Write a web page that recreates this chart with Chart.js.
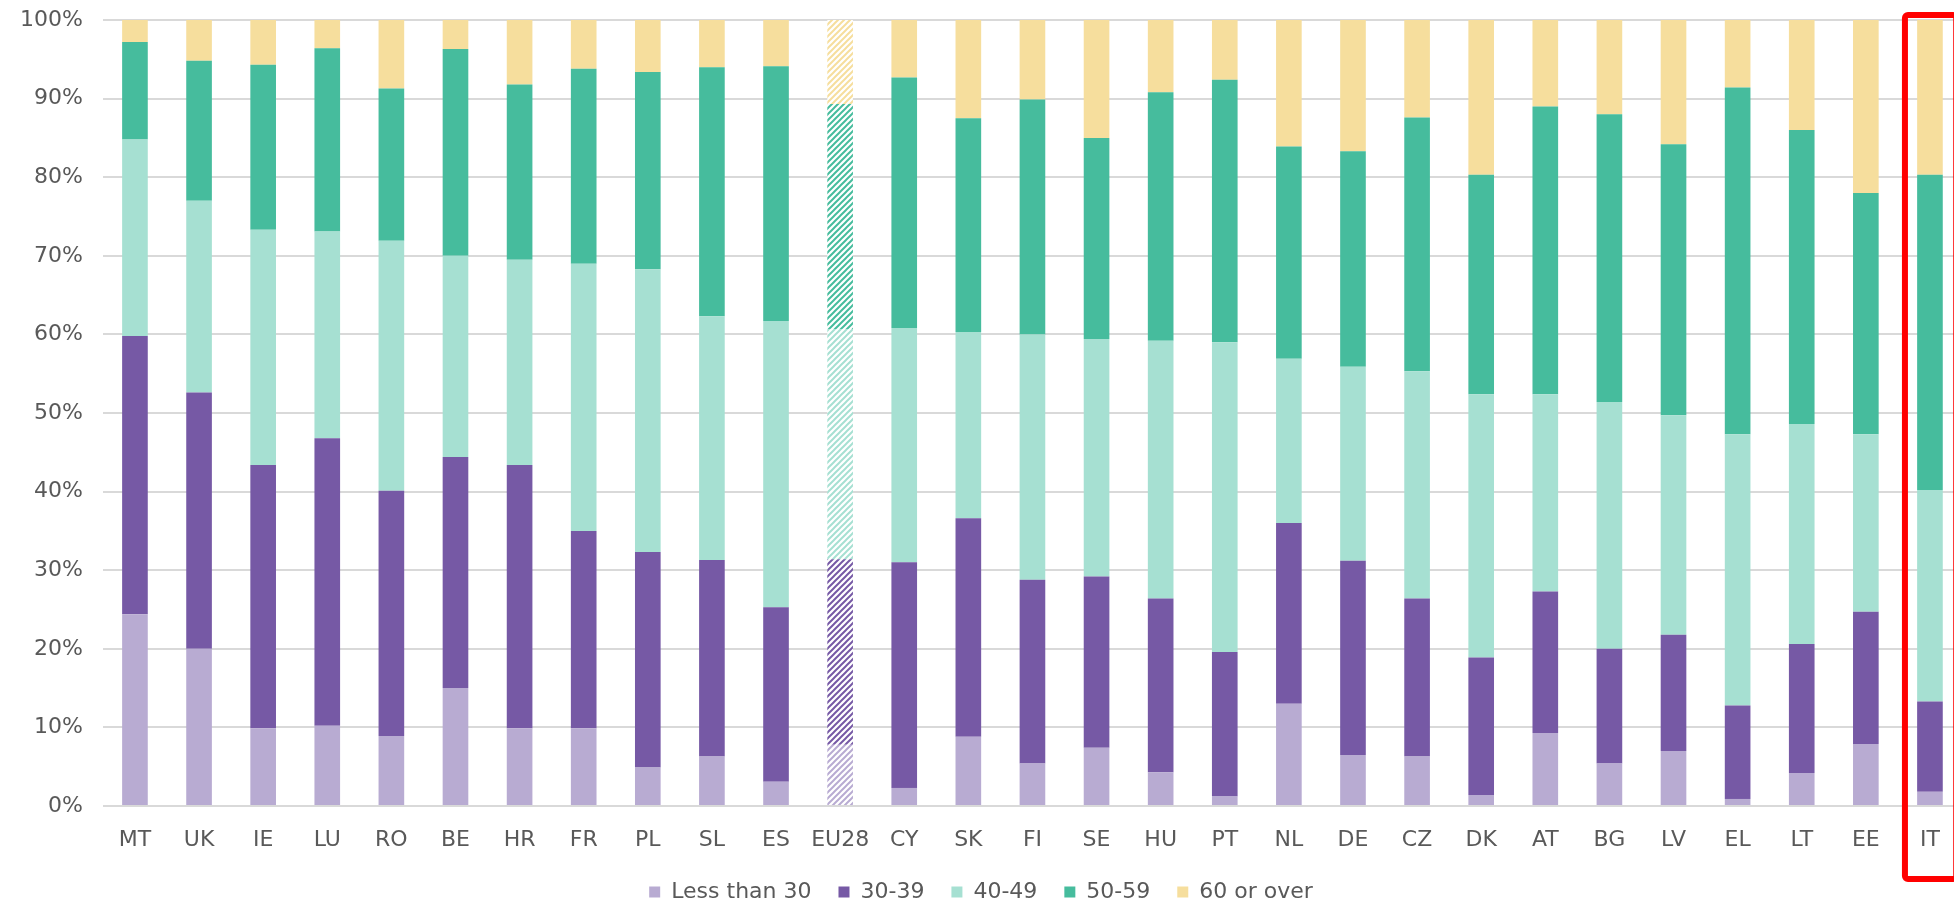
<!DOCTYPE html>
<html>
<head>
<meta charset="utf-8">
<script src="https://cdn.jsdelivr.net/npm/chart.js@4/dist/chart.umd.min.js"></script>
<style>
html, body { margin: 0; padding: 0; background: #fff; overflow: hidden; }
</style>
</head>
<body>
<canvas id="canvas" width="1980" height="904"></canvas>
<script>
// share of staff by age group, per country (%)
var countries = ["MT", "UK", "IE", "LU", "RO", "BE", "HR", "FR", "PL", "SL", "ES", "EU28", "CY", "SK", "FI",
                 "SE", "HU", "PT", "NL", "DE", "CZ", "DK", "AT", "BG", "LV", "EL", "LT", "EE", "IT"];
var lessThan30 = [24.4, 20.0, 9.9, 10.2, 8.9, 15.0, 9.9, 9.9, 4.9, 6.3, 3.1, 7.8, 2.3, 8.8, 5.4,
                  7.4, 4.3, 1.2, 13.0, 6.5, 6.3, 1.4, 9.3, 5.4, 7.0, 0.9, 4.2, 7.9, 1.8];
var age30to39 = [35.4, 32.6, 33.5, 36.6, 31.2, 29.4, 33.5, 25.1, 27.4, 25.0, 22.2, 23.6, 28.7, 27.8, 23.4,
                 21.8, 22.1, 18.4, 23.0, 24.7, 20.1, 17.5, 18.0, 14.6, 14.8, 11.9, 16.4, 16.8, 11.5];
var age40to49 = [25.0, 24.4, 29.9, 26.3, 31.8, 25.6, 26.1, 34.0, 36.0, 31.0, 36.4, 29.3, 29.8, 23.7, 31.2,
                 30.2, 32.8, 39.4, 20.9, 24.7, 28.9, 33.5, 25.1, 31.4, 27.9, 34.5, 28.0, 22.6, 26.9];
var age50to59 = [12.4, 17.8, 21.0, 23.3, 19.4, 26.3, 22.3, 24.8, 25.1, 31.7, 32.4, 28.6, 31.9, 27.2, 29.9,
                 25.6, 31.6, 33.4, 27.0, 27.4, 32.3, 27.9, 36.6, 36.6, 34.5, 44.1, 37.4, 30.7, 40.1];
var age60plus = [2.8, 5.2, 5.7, 3.6, 8.7, 3.7, 8.2, 6.2, 6.6, 6.0, 5.9, 10.7, 7.3, 12.5, 10.1,
                 15.0, 9.2, 7.6, 16.1, 16.7, 12.4, 19.7, 11.0, 12.0, 15.8, 8.6, 14.0, 22.0, 19.7];
var yTicks = [0, 10, 20, 30, 40, 50, 60, 70, 80, 90, 100];
var average = "EU28";
var highlight = "IT";

Chart.defaults.font.family = "'DejaVu Sans', Verdana, sans-serif";
Chart.defaults.font.size = 22;
Chart.defaults.color = '#595959';

// diagonal hatch used for the EU average bar
function hatch(color) {
    var c = document.createElement('canvas');
    c.width = 6;
    c.height = 6;
    var g = c.getContext('2d');
    g.fillStyle = '#ffffff';
    g.fillRect(0, 0, 6, 6);
    g.strokeStyle = color;
    g.lineWidth = 2;
    g.beginPath();
    g.moveTo(0, 6); g.lineTo(6, 0);
    g.moveTo(-1, 1); g.lineTo(1, -1);
    g.moveTo(5, 7); g.lineTo(7, 5);
    g.stroke();
    return g.createPattern(c, 'repeat');
}

function series(label, values, color) {
    return {
        label: label,
        data: values,
        backgroundColor: countries.map(function (c) { return c === average ? hatch(color) : color; }),
        borderWidth: 0,
        barPercentage: 0.4,
        categoryPercentage: 1.0
    };
}

var highlightBox = {
    id: 'highlightBox',
    afterDraw: function (chart) {
        var x = chart.scales.x;
        var i = countries.indexOf(highlight);
        var cx = x.getPixelForValue(i);
        var w = x.width / countries.length;
        var ctx = chart.ctx;
        var top = chart.chartArea.top - 5;
        ctx.save();
        ctx.strokeStyle = '#ff0000';
        ctx.lineWidth = 6;
        ctx.beginPath();
        ctx.roundRect(cx - w * 0.39, top, w * 0.8, chart.height - 25 - top, 3);
        ctx.stroke();
        ctx.restore();
    }
};

var config = {
    type: 'bar',
    data: {
        labels: countries,
        datasets: [
            series("Less than 30", lessThan30, '#b8abd2'),
            series("30-39", age30to39, '#7659a5'),
            series("40-49", age40to49, '#a6e0d2'),
            series("50-59", age50to59, '#46bc9d'),
            series("60 or over", age60plus, '#f6de9d')
        ]
    },
    options: {
        responsive: false,
        animation: false,
        layout: {
            padding: { top: 20, left: 0, right: 18, bottom: -9 }
        },
        plugins: {
            legend: {
                position: 'bottom',
                labels: {
                    boxWidth: 11,
                    boxHeight: 11,
                    padding: 27,
                    font: { size: 22 }
                }
            },
            tooltip: { enabled: false }
        },
        scales: {
            x: {
                stacked: true,
                grid: { display: false },
                border: { display: false },
                ticks: { padding: 13, maxRotation: 0, autoSkip: false },
                afterFit: function (scale) { scale.height = 48; }
            },
            y: {
                stacked: true,
                min: 0,
                max: 100,
                afterBuildTicks: function (scale) {
                    scale.ticks = yTicks.map(function (v) { return { value: v }; });
                },
                afterFit: function (scale) { scale.paddingTop = 0; },
                grid: { color: '#d9d9d9', lineWidth: 2, drawTicks: false },
                border: { display: false },
                ticks: {
                    padding: 20,
                    callback: function (v) { return v + '%'; }
                }
            }
        }
    },
    plugins: [highlightBox]
};

window.onload = function () {
    window.myBar = new Chart(document.getElementById("canvas"), config);
};
</script>
</body>
</html>
